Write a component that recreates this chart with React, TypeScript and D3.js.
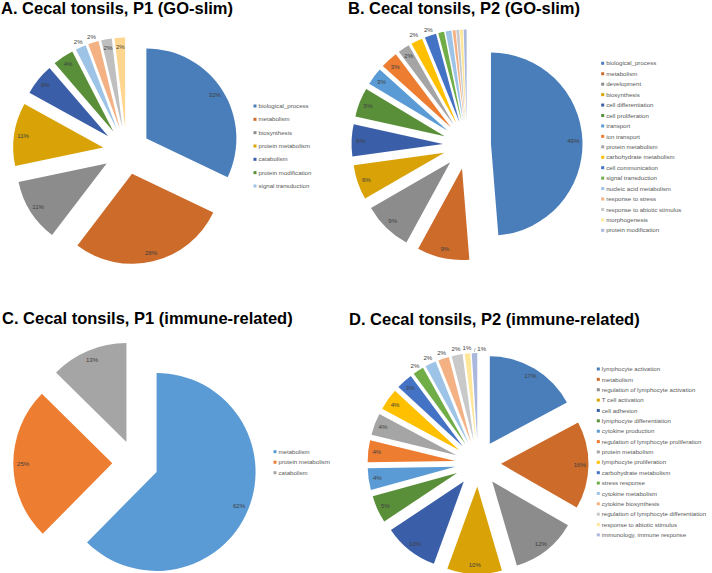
import React from "react";
import * as d3 from "d3";

const FONT = "Arial, 'Liberation Sans', Helvetica, sans-serif";

// palettes
const DARK = ["#4a7ebb", "#cc6b2a", "#8c8c8c", "#d9a307", "#3a5ea8", "#5a8f3a"];
const MID = ["#5b9bd5", "#ed7d31", "#a5a5a5", "#ffc000", "#4472c4", "#70ad47"];
const LIGHT = ["#9dc3e6", "#f4b183", "#c9c9c9", "#ffe699", "#a9b8dc"];

// A. Cecal tonsils, P1 (GO-slim)
const A_TITLE = "A. Cecal tonsils, P1 (GO-slim)";
const A_LEGEND = ["biological_process", "metabolism", "biosynthesis", "protein metabolism", "catabolism", "protein modification", "signal transduction"];
const A_COUNTS = [17, 15, 6, 6, 3, 2, 1, 1, 1, 1];
const A_COLORS = [...DARK, "#9dc3e6", "#f4b183", "#bfbfbf", "#ffd68f"];

// B. Cecal tonsils, P2 (GO-slim)
const B_TITLE = "B. Cecal tonsils, P2 (GO-slim)";
const B_LEGEND = ["biological_process", "metabolism", "development", "biosynthesis", "cell differentiation", "cell proliferation", "transport", "ion transport", "protein metabolism", "carbohydrate metabolism", "cell communication", "signal transduction", "nucleic acid metabolism", "response to stress", "response to abiotic stimulus", "morphogenesis", "protein modification"];
const B_COUNTS = [95, 18, 17, 12, 11, 10, 6, 6, 4, 4, 4, 2, 2, 1, 1, 1, 1];
const B_COLORS = [...DARK, ...MID, ...LIGHT];

// C. Cecal tonsils, P1 (immune-related)
const C_TITLE = "C. Cecal tonsils, P1 (immune-related)";
const C_LEGEND = ["metabolism", "protein metabolism", "catabolism"];
const C_VALUES = [62.4, 25, 12.6];
const C_COLORS = ["#5b9bd5", "#ed7d31", "#a5a5a5"];

// D. Cecal tonsils, P2 (immune-related)
const D_TITLE = "D. Cecal tonsils, P2 (immune-related)";
const D_LEGEND = ["lymphocyte activation", "metabolism", "regulation of lymphocyte activation", "T cell activation", "cell adhesion", "lymphocyte differentiation", "cytokine production", "regulation of lymphocyte proliferation", "protein metabolism", "lymphocyte proliferation", "carbohydrate metabolism", "stress response", "cytokine metabolism", "cytokine biosynthesis", "regulation of lymphocyte differentiation", "response to abiotic stimulus", "immunology, immune response"];
const D_COUNTS = [17, 16, 12, 10, 10, 5, 4, 4, 4, 4, 3, 2, 2, 2, 2, 1, 1];
const D_COLORS = [...DARK, ...MID, ...LIGHT];

type PanelProps = {
  title: string; titleX: number; titleY: number;
  values: number[]; legend: string[]; colors: string[];
  cx: number; cy: number; r: number; explode: number;
  legX: number; legY: number; legStep: number;
  outside?: number[]; hidden?: number[];
};

const LABEL_FS = 6.1;

function PiePanel(p: PanelProps) {
  const total = d3.sum(p.values);
  const arcs = d3.pie<number>().sort(null).value((v) => v)(p.values);
  const arcGen = d3.arc<d3.PieArcDatum<number>>().innerRadius(0).outerRadius(p.r);
  const outside = new Set(p.outside || []);
  const hidden = new Set(p.hidden || []);

  let prevRight = -Infinity;
  const labels: any[] = [];
  arcs.forEach((a, i) => {
    if (hidden.has(i)) return;
    const mid = (a.startAngle + a.endAngle) / 2;
    const dx = Math.sin(mid), dy = -Math.cos(mid);
    const ax = p.cx + p.explode * dx, ay = p.cy + p.explode * dy;
    const txt = Math.round((a.value / total) * 100) + "%";
    const w = txt.length === 2 ? 8.8 : 11.8;
    if (outside.has(i)) {
      let lx = ax + p.r * 1.07 * dx;
      let ly = ay + p.r * 1.07 * dy;
      let leader: string | null = null;
      if (lx - w / 2 < prevRight + 1) {
        const ox = ax + p.r * dx, oy = ay + p.r * dy;
        lx = prevRight + 6 + w / 2;
        ly = ly + 2;
        leader = `M${ox},${oy - 1}L${ox},${ly}L${lx - w / 2 - 1},${ly}`;
      }
      prevRight = lx + w / 2;
      labels.push({ x: lx, y: ly, txt, leader, key: i });
    } else {
      labels.push({ x: ax + p.r * 0.9 * dx, y: ay + p.r * 0.9 * dy, txt, leader: null, key: i });
    }
  });

  return (
    <g>
      <text x={p.titleX} y={p.titleY} fontFamily={FONT} fontWeight="bold" fontSize={16.5} fill="#000">{p.title}</text>
      {arcs.map((a, i) => {
        const mid = (a.startAngle + a.endAngle) / 2;
        const tx = p.cx + p.explode * Math.sin(mid);
        const ty = p.cy - p.explode * Math.cos(mid);
        return <path key={i} d={arcGen(a) || ""} transform={`translate(${tx},${ty})`} fill={p.colors[i]} />;
      })}
      {labels.map((l) => (
        <g key={l.key}>
          {l.leader && <path d={l.leader} fill="none" stroke="#a6a6a6" strokeWidth={0.6} />}
          <text x={l.x} y={l.y} dy="0.35em" textAnchor="middle" fontFamily={FONT} fontSize={LABEL_FS} fill="#404040">{l.txt}</text>
        </g>
      ))}
      {p.legend.map((name, i) => {
        const y = p.legY + i * p.legStep;
        return (
          <g key={name + i}>
            <rect x={p.legX - 1.5} y={y - 1.5} width={3} height={3} fill={p.colors[i]} />
            <text x={p.legX + 3.5} y={y} dy="0.35em" fontFamily={FONT} fontSize={LABEL_FS} fill="#595959">{name}</text>
          </g>
        );
      })}
    </g>
  );
}

export default function App() {
  return (
    <svg width={712} height={573} viewBox="0 0 712 573" style={{ position: "absolute", left: 0, top: 0, background: "#fff" }}>
      <rect x={0} y={0} width={712} height={573} fill="#fff" />
      <PiePanel title={A_TITLE} titleX={1} titleY={13.5} values={A_COUNTS} legend={A_LEGEND} colors={A_COLORS}
        cx={126.5} cy={151} r={90} explode={23.5} legX={255} legY={106} legStep={13.33} outside={[6, 7]} />
      <PiePanel title={B_TITLE} titleX={348} titleY={13.5} values={B_COUNTS} legend={B_LEGEND} colors={B_COLORS}
        cx={467} cy={145} r={91.5} explode={24} legX={602.7} legY={63.3} legStep={10.44} outside={[9, 10]}
        hidden={[11, 12, 13, 14, 15, 16]} />
      <PiePanel title={C_TITLE} titleX={2} titleY={323.5} values={C_VALUES} legend={C_LEGEND} colors={C_COLORS}
        cx={135.3} cy={463.2} r={99} explode={23} legX={275} legY={451.7} legStep={10.5} />
      <PiePanel title={D_TITLE} titleX={349} titleY={324.5} values={D_COUNTS} legend={D_LEGEND} colors={D_COLORS}
        cx={478} cy={463.5} r={87.5} explode={23} legX={598.3} legY={369} legStep={10.37}
        outside={[11, 12, 13, 14, 15, 16]} />
    </svg>
  );
}
